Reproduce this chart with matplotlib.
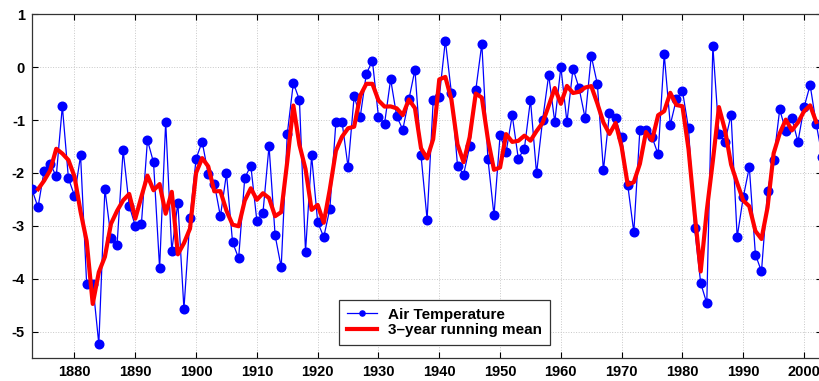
import numpy as np
import matplotlib
matplotlib.use("Agg")
import matplotlib.pyplot as plt

plt.rcParams['font.family'] = ['Liberation Sans', 'DejaVu Sans']
plt.rcParams['axes.unicode_minus'] = False

# Annual air temperature anomalies, 1873-2003
first_year = 1873
air_temp = [
    -2.31, -2.65, -1.96, -1.83, -2.06, -0.74, -2.10, -2.43, -1.67, -4.10,
    -4.09, -5.23, -2.30, -3.22, -3.36, -1.57, -2.62, -3.00, -2.97, -1.38,
    -1.80, -3.80, -1.03, -3.48, -2.56, -4.57, -2.85, -1.73, -1.41, -2.02,
    -2.20, -2.82, -2.01, -3.31, -3.61, -2.10, -1.86, -2.91, -2.75, -1.49,
    -3.18, -3.78, -1.26, -0.30, -0.62, -3.49, -1.67, -2.93, -3.21, -2.68,
    -1.03, -1.03, -1.89, -0.55, -0.94, -0.13, 0.12, -0.94, -1.07, -0.23,
    -0.93, -1.18, -0.61, -0.05, -1.67, -2.88, -0.63, -0.57, 0.50, -0.49,
    -1.86, -2.03, -1.50, -0.44, 0.44, -1.73, -2.80, -1.29, -1.60, -0.91,
    -1.73, -1.54, -0.62, -2.01, -1.00, -0.15, -1.04, 0.00, -1.04, -0.03,
    -0.40, -0.97, 0.21, -0.32, -1.95, -0.87, -0.97, -1.33, -2.22, -3.12,
    -1.18, -1.18, -1.32, -1.65, 0.24, -1.09, -0.61, -0.45, -1.16, -3.04,
    -4.08, -4.46, 0.40, -1.26, -1.41, -0.90, -3.21, -2.46, -1.89, -3.54,
    -3.86, -2.34, -1.75, -0.80, -1.21, -0.97, -1.41, -0.76, -0.34, -1.07,
    -1.70,
]
years = np.arange(first_year, first_year + len(air_temp))
temps = np.array(air_temp)

# Centred 3-year running mean
running_mean = np.convolve(temps, np.ones(3) / 3, mode='valid')
mean_years = years[1:-1]

x_ticks = list(range(1880, 2001, 10))
y_ticks = [1, 0, -1, -2, -3, -4, -5]

fig = plt.figure(figsize=(8.19, 3.81), dpi=100)
ax = fig.add_axes([0.039, 0.0596, 0.965, 0.9034])

ax.plot(years, temps, color='#0000ff', linewidth=0.9, marker='o',
        markersize=6.2, markerfacecolor='#0000ff', markeredgecolor='#0000ff',
        label='Air Temperature', zorder=3)
ax.plot(mean_years, running_mean, color='#ff0000', linewidth=3.0,
        label='3\u2013year running mean', zorder=4)

ax.set_xlim(1873, 2003)
ax.set_ylim(-5.5, 1)
ax.set_xticks(x_ticks)
ax.set_yticks(y_ticks)
ax.tick_params(direction='in', top=True, right=True, length=4, width=0.8,
               labelsize=10.5, pad=5)
for lbl in ax.get_xticklabels() + ax.get_yticklabels():
    lbl.set_fontweight('bold')

ax.grid(True, color='#c8c8c8', linestyle=':', linewidth=0.7)
ax.set_axisbelow(True)
for sp in ax.spines.values():
    sp.set_linewidth(0.9)
    sp.set_color('#333333')

leg = ax.legend(loc='lower center', bbox_to_anchor=(0.522, 0.039),
                prop={'weight': 'bold', 'size': 11}, frameon=True,
                fancybox=False, edgecolor='#333333', framealpha=1,
                handlelength=2.0, handletextpad=0.7, labelspacing=0.1,
                borderpad=0.5, borderaxespad=0, markerscale=0.6)
leg.get_frame().set_linewidth(0.9)

fig.savefig('out.png', dpi=100)
